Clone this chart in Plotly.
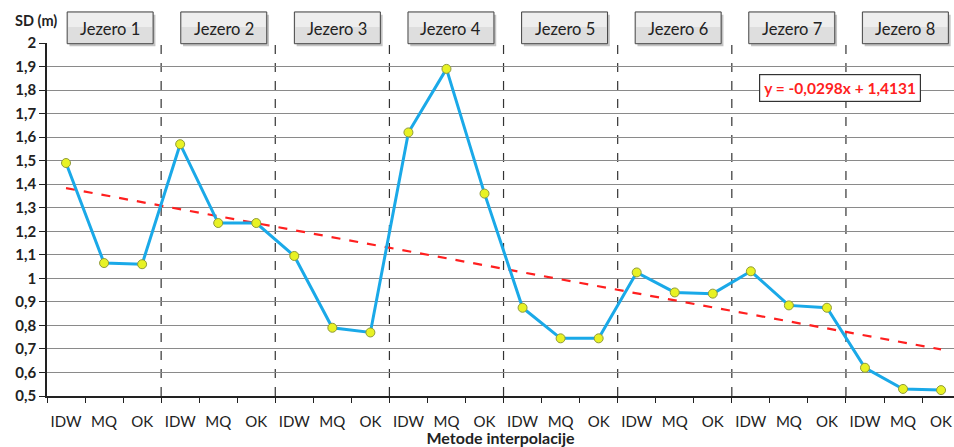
import plotly.graph_objects as go

# ---- data ----
groups = ["Jezero 1", "Jezero 2", "Jezero 3", "Jezero 4",
          "Jezero 5", "Jezero 6", "Jezero 7", "Jezero 8"]
methods = ["IDW", "MQ", "OK"]
sd_values = [1.49, 1.065, 1.06,
             1.57, 1.235, 1.235,
             1.095, 0.79, 0.77,
             1.62, 1.89, 1.36,
             0.875, 0.745, 0.745,
             1.025, 0.94, 0.935,
             1.03, 0.885, 0.875,
             0.62, 0.53, 0.525]
trend_slope = -0.0298
trend_intercept = 1.4131
equation_text = "y = -0,0298x + 1,4131"
y_title = "SD (m)"
x_title = "Metode interpolacije"

n = len(sd_values)
xs = list(range(1, n + 1))
ticktext = methods * len(groups)
trend = [trend_slope * x + trend_intercept for x in xs]

FONT = "Lato, 'Open Sans', sans-serif"

fig = go.Figure()
fig.add_trace(go.Scatter(
    x=xs, y=trend, mode="lines",
    line=dict(color="#ff1f1f", width=2.2, dash="dash"),
    hoverinfo="skip", showlegend=False))
fig.add_trace(go.Scatter(
    x=xs, y=sd_values, mode="lines+markers",
    line=dict(color="#1aa9e8", width=3),
    marker=dict(color="#e8f224", size=9, line=dict(color="#8f9a3a", width=1)),
    showlegend=False))

shapes = []
annotations = []
for g, name in enumerate(groups):
    start = 0.5 + 3 * g
    if g > 0:
        shapes.append(dict(type="line", xref="x", yref="paper",
                           x0=start, x1=start, y0=0, y1=1,
                           line=dict(color="#333333", width=1.2, dash="dash"), layer="below"))
    bx0 = 1.03 + 2.986 * g
    bx1 = bx0 + 2.26
    # shadow
    shapes.append(dict(type="rect", xref="x", yref="paper",
                       x0=bx0 + 0.06, x1=bx1 + 0.06, y0=0.991, y1=1.08,
                       fillcolor="#c4c4c4", line=dict(width=0), layer="above"))
    shapes.append(dict(type="rect", xref="x", yref="paper",
                       x0=bx0, x1=bx1, y0=0.998, y1=1.088,
                       fillcolor="#dedede", line=dict(color="#444444", width=1), layer="above"))
    shapes.append(dict(type="rect", xref="x", yref="paper",
                       x0=bx0 + 0.03, x1=bx1 - 0.03, y0=1.045, y1=1.085,
                       fillcolor="#eeeeee", line=dict(width=0), layer="above"))
    annotations.append(dict(x=(bx0 + bx1) / 2, y=1.039, xref="x", yref="paper",
                            text=name, showarrow=False, yanchor="middle", xanchor="center",
                            font=dict(family=FONT, size=16.5, color="#222222")))

annotations.append(dict(x=21.35, y=1.81, xref="x", yref="y", text="<b>" + equation_text + "</b>",
                        showarrow=False, bgcolor="white", bordercolor="#333333", borderwidth=1.2,
                        borderpad=4, font=dict(family=FONT, size=15.5, color="#ff1f1f")))
annotations.append(dict(x=-0.038, y=1.065, xref="paper", yref="paper", text="<b>" + y_title + "</b>",
                        showarrow=False, xanchor="left", yanchor="middle",
                        font=dict(family=FONT, size=14.5, color="#222222")))

fig.update_layout(
    width=954, height=447,
    margin=dict(l=47, r=0, t=43, b=51),
    paper_bgcolor="white", plot_bgcolor="white",
    separators=",.",
    font=dict(family=FONT, size=14, color="#222222"),
    shapes=shapes, annotations=annotations,
    xaxis=dict(range=[0.5, 24.34], tickmode="array", tickvals=xs, ticktext=ticktext,
               ticks="outside", ticklen=11, tickcolor="rgba(0,0,0,0)",
               ticklabeloverflow="allow",
               showgrid=False, zeroline=False,
               showline=True, linecolor="#222222", linewidth=1.5,
               minor=dict(tickmode="linear", tick0=0.5, dtick=1, ticks="outside",
                          ticklen=5, tickcolor="#222222", showgrid=False),
               tickfont=dict(family=FONT, size=15, color="#222222"),
               title=dict(text="<b>" + x_title + "</b>", standoff=7,
                          font=dict(family=FONT, size=16, color="#222222"))),
    yaxis=dict(range=[0.5, 2.0], dtick=0.1, tick0=0.5, showgrid=True,
               gridcolor="#8a8a8a", gridwidth=1, zeroline=False,
               showline=True, linecolor="#222222", linewidth=1.5,
               ticks="outside", ticklen=6, tickcolor="#222222",
               tickfont=dict(family=FONT, size=15, color="#222222", weight="bold")),
)

fig.write_html("out.html", config={"displayModeBar": False},
               post_script="document.body.style.margin='0';document.body.style.overflow='hidden';")
